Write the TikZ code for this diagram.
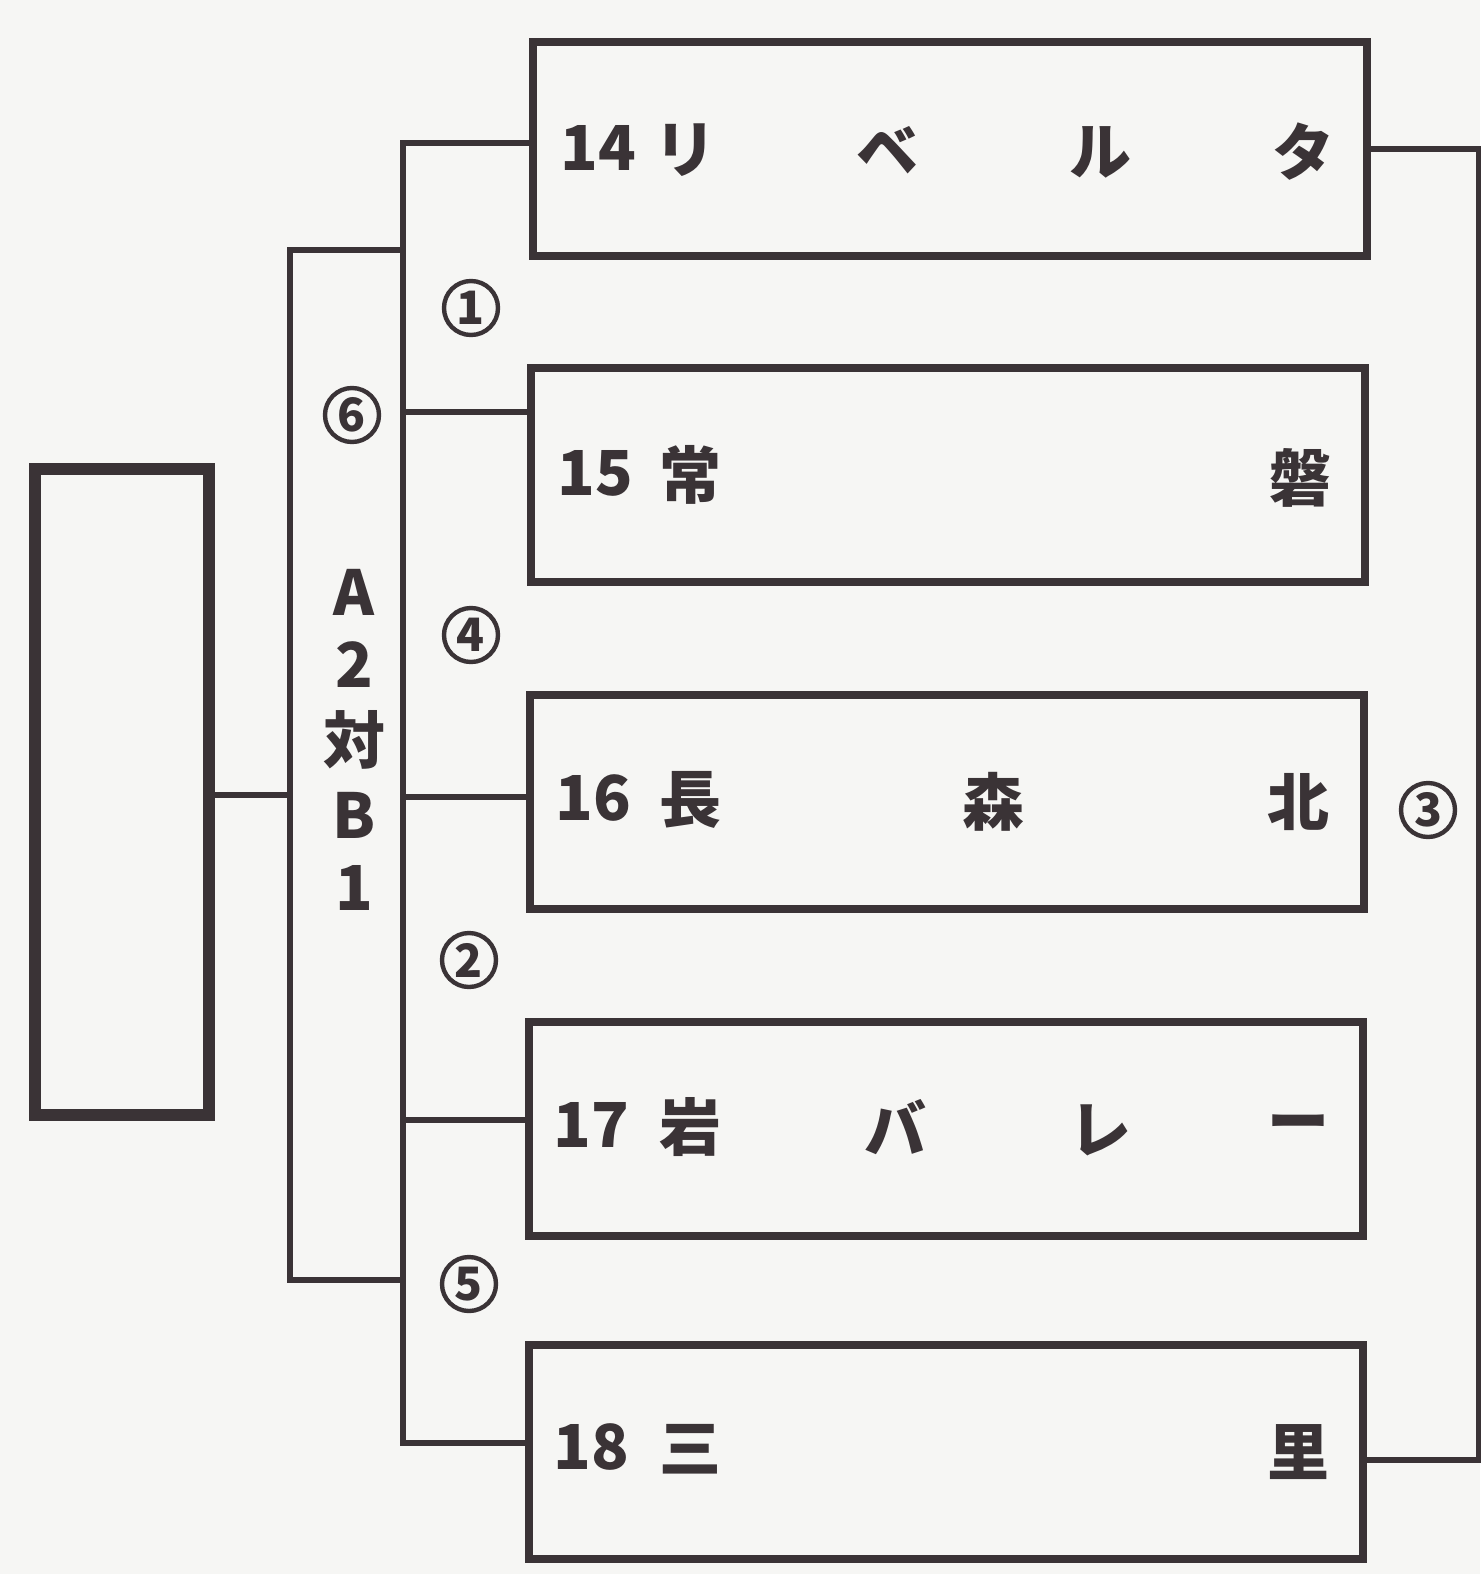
\documentclass[tikz,border=0pt]{standalone}
\usepackage{fontspec}
\setmainfont{Noto Sans CJK JP}
\definecolor{ink}{HTML}{3A3336}
\definecolor{paper}{HTML}{F6F6F4}
\tikzset{
  team/.style={draw=ink, line width=3.8pt, minimum width=417pt, minimum height=107pt, inner sep=0pt},
  resbox/.style={draw=ink, line width=6pt, minimum width=87pt, minimum height=323pt, inner sep=0pt},
  conn/.style={draw=ink, line width=2.6pt, line cap=rect},
  lbl/.style={text=ink, font=\bfseries\fontsize{31}{31}\selectfont, inner sep=0pt},
  circ/.style={circle, draw=ink, line width=2.2pt, minimum size=27pt, inner sep=0pt, text=ink, font=\bfseries\fontsize{23}{23}\selectfont},
}
\begin{document}
\begin{tikzpicture}[x=0.5pt,y=-0.5pt]
\fill[paper] (0,0) rectangle (1480,1574);
\useasboundingbox (0,0) rectangle (1480,1574);
% result box
\node[resbox] (res) at (122,792) {};
% team boxes
\node[team] (b14) at (950,149) {};
\node[team] (b15) at (948,475) {};
\node[team] (b16) at (947,802) {};
\node[team] (b17) at (946,1129) {};
\node[team] (b18) at (946,1452) {};
% team labels
\node[lbl] (n14) at (598,148) {14};
\node[lbl] (t14a) at (685,150) {リ};
\node[lbl] (t14b) at (887,150) {ベ};
\node[lbl] (t14c) at (1100,152) {ル};
\node[lbl] (t14d) at (1303,152) {タ};
\node[lbl] (n15) at (595,473) {15};
\node[lbl] (t15a) at (690,475) {常};
\node[lbl] (t15b) at (1300,478) {磐};
\node[lbl] (n16) at (593,798) {16};
\node[lbl] (t16a) at (690,800) {長};
\node[lbl] (t16b) at (993,802) {森};
\node[lbl] (t16c) at (1298,802) {北};
\node[lbl] (n17) at (591,1125) {17};
\node[lbl] (t17a) at (690,1127) {岩};
\node[lbl] (t17b) at (895,1127) {バ};
\node[lbl] (t17c) at (1100,1130) {レ};
\node[lbl] (t17d) at (1298,1130) {ー};
\node[lbl] (n18) at (591,1447) {18};
\node[lbl] (t18a) at (690,1449) {三};
\node[lbl] (t18b) at (1298,1452) {里};
% vertical label
\node[lbl] (va) at (354,592) {A};
\node[lbl] (v2) at (354,665) {2};
\node[lbl] (vt) at (354,740) {対};
\node[lbl] (vb) at (354,815) {B};
\node[lbl] (v1) at (354,888) {1};
% circled numbers
\node[circ] (c1) at (471,308) {1};
\node[circ] (c4) at (471,635) {4};
\node[circ] (c2) at (469,960) {2};
\node[circ] (c5) at (469,1284) {5};
\node[circ] (c6) at (352,415) {6};
\node[circ] (c3) at (1428,810) {3};
% bracket coordinates
\coordinate (oT) at (290,250);
\coordinate (oB) at (290,1280);
\coordinate (iT) at (403,143);
\coordinate (iB) at (403,1443);
\coordinate (j15) at (403,412);
\coordinate (j16) at (403,797);
\coordinate (j17) at (403,1120);
\coordinate (rT) at (1479,149);
\coordinate (rB) at (1479,1460);
% connectors
\path[conn] (res.east |- 0,795) -- (oT |- 0,795);
\path[conn] (iT |- oT) -- (oT) -- (oB) -- (iB |- oB);
\path[conn] (iT -| b14.west) -- (iT) -- (iB) -- (iB -| b18.west);
\path[conn] (j15) -- (j15 -| b15.west);
\path[conn] (j16) -- (j16 -| b16.west);
\path[conn] (j17) -- (j17 -| b17.west);
\path[conn] (b14.east) -- (rT) -- (rB) -- (b18.east |- rB);
\end{tikzpicture}
\end{document}
